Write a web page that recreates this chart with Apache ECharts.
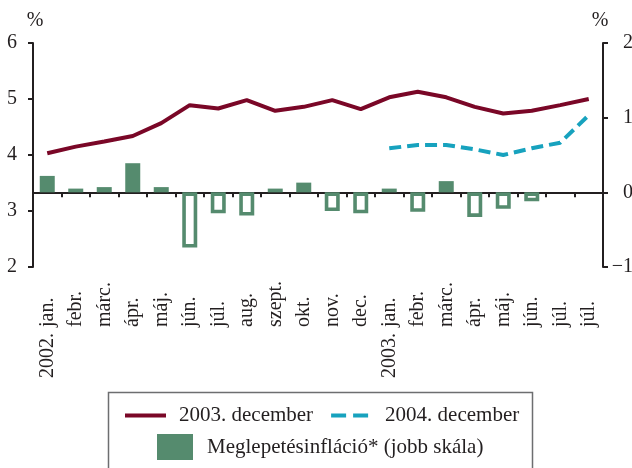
<!DOCTYPE html>
<html>
<head>
<meta charset="utf-8">
<script src="https://cdn.jsdelivr.net/npm/echarts@6/dist/echarts.min.js"></script>
<style>
  html, body { margin: 0; padding: 0; background: #fff; }
  #chart { width: 632px; height: 468px; }
</style>
</head>
<body>
<div id="chart"></div>
<script>
// Month labels along the bottom axis; years sit on a separate label row
const months = ['jan.', 'febr.', 'márc.', 'ápr.', 'máj.', 'jún.', 'júl.', 'aug.', 'szept.', 'okt.', 'nov.', 'dec.',
                'jan.', 'febr.', 'márc.', 'ápr.', 'máj.', 'jún.', 'júl.', 'júl.'];
const years = ['2002.', '', '', '', '', '', '', '', '', '', '', '',
               '2003.', '', '', '', '', '', '', ''];

// Inflation expectations, % (left scale)
const dec2003 = [4.03, 4.15, 4.24, 4.34, 4.57, 4.89, 4.83, 4.98, 4.79, 4.86, 4.98, 4.82,
                 5.03, 5.13, 5.03, 4.86, 4.74, 4.79, 4.89, 5.00];
const dec2004 = [null, null, null, null, null, null, null, null, null, null, null, null,
                 4.12, 4.18, 4.18, 4.10, 4.00, 4.12, 4.22, 4.71];
// Surprise inflation, percentage points (right scale)
const surprise = [0.22, 0.05, 0.07, 0.39, 0.07, -0.74, -0.28, -0.31, 0.05, 0.13, -0.25, -0.28,
                  0.05, -0.26, 0.15, -0.33, -0.22, -0.12, null, null];

const leftTicks = { min: 2, max: 6, interval: 1 };
const rightTicks = { min: -1, max: 2, interval: 1 };

const FONT = "'Liberation Serif', 'Times New Roman', serif";
const INK = '#231f20';
const RED = '#7a0727';
const CYAN = '#17a2be';
const GREEN = '#558b6e';

// Positive surprises are filled, negative ones are drawn as outlines
const barData = surprise.map(v => {
  if (v === null) return null;
  return v >= 0
    ? { value: v, itemStyle: { color: GREEN, borderWidth: 0 } }
    : { value: v, itemStyle: { color: '#ffffff', borderColor: GREEN, borderWidth: 3.6 } };
});

const axisLineStyle = { lineStyle: { color: INK, width: 2 } };
const tickStyle = { show: true, length: 5, lineStyle: { color: INK, width: 2 } };

const chart = echarts.init(document.getElementById('chart'), null, { renderer: 'canvas' });
chart.setOption({
  animation: false,
  backgroundColor: '#ffffff',
  textStyle: { fontFamily: FONT, color: INK },
  grid: { left: 33, right: 29, top: 43, bottom: 201, containLabel: false, outerBoundsMode: 'none' },
  xAxis: [
    {
      type: 'category',
      data: months,
      boundaryGap: true,
      position: 'bottom',
      axisLine: axisLineStyle,
      axisTick: Object.assign({ alignWithLabel: false, inside: false }, tickStyle),
      axisLabel: {
        interval: 0, rotate: 90, align: 'left', margin: 60,
        fontFamily: FONT, fontSize: 20, color: INK
      },
      splitLine: { show: false }
    },
    {
      type: 'category',
      data: years,
      boundaryGap: true,
      position: 'bottom',
      axisLine: { show: false },
      axisTick: { show: false },
      axisLabel: {
        interval: 0, rotate: 90, align: 'left', margin: 111,
        fontFamily: FONT, fontSize: 20, color: INK
      },
      splitLine: { show: false }
    }
  ],
  yAxis: [
    {
      type: 'value',
      position: 'left',
      min: leftTicks.min, max: leftTicks.max, interval: leftTicks.interval,
      name: '%',
      nameLocation: 'end',
      nameGap: 12,
      nameTextStyle: { fontFamily: FONT, fontSize: 20, color: INK, align: 'center', padding: [0, 0, 0, 4] },
      axisLine: Object.assign({ show: true }, axisLineStyle),
      axisTick: tickStyle,
      axisLabel: { margin: 16, fontFamily: FONT, fontSize: 20, color: INK },
      splitLine: { show: false }
    },
    {
      type: 'value',
      position: 'right',
      min: rightTicks.min, max: rightTicks.max, interval: rightTicks.interval,
      name: '%',
      nameLocation: 'end',
      nameGap: 12,
      nameTextStyle: { fontFamily: FONT, fontSize: 20, color: INK, align: 'center', padding: [0, 6, 0, 0] },
      axisLine: Object.assign({ show: true }, axisLineStyle),
      axisTick: tickStyle,
      axisLabel: {
        margin: 30, align: 'right',
        fontFamily: FONT, fontSize: 20, color: INK,
        formatter: v => String(v).replace('-', '\u2212')
      },
      splitLine: { show: false }
    }
  ],
  legend: [
    {
      data: [
        { name: '2003. december' },
        { name: '2004. december', lineStyle: { type: [15, 7] } }
      ],
      left: 123, top: 405, padding: 0,
      itemWidth: 41, itemHeight: 14, itemGap: 16,
      itemStyle: { opacity: 0 },
      lineStyle: { width: 4 },
      textStyle: { fontFamily: FONT, fontSize: 21, color: INK, padding: [0, 0, 0, 8] }
    },
    {
      data: ['Meglepetésinfláció* (jobb skála)'],
      left: 157, top: 434, padding: 0,
      icon: 'rect',
      itemWidth: 36, itemHeight: 26,
      itemStyle: { borderWidth: 0, color: GREEN },
      textStyle: { fontFamily: FONT, fontSize: 21, color: INK, padding: [0, 0, 0, 9] }
    }
  ],
  graphic: [
    {
      type: 'rect',
      left: 106, top: 390,
      shape: { width: 424, height: 90 },
      style: { fill: 'none', stroke: '#6d6e70', lineWidth: 1.5 },
      silent: true, z: -1
    }
  ],
  series: [
    {
      name: 'Meglepetésinfláció* (jobb skála)',
      type: 'bar',
      yAxisIndex: 1,
      barWidth: 15,
      itemStyle: { color: GREEN },
      data: barData
    },
    {
      name: '2003. december',
      type: 'line',
      yAxisIndex: 0,
      symbol: 'none',
      lineStyle: { color: RED, width: 4 },
      itemStyle: { color: RED },
      data: dec2003
    },
    {
      name: '2004. december',
      type: 'line',
      yAxisIndex: 0,
      symbol: 'none',
      connectNulls: false,
      lineStyle: { color: CYAN, width: 4, type: [12, 6] },
      itemStyle: { color: CYAN },
      data: dec2004
    }
  ]
});
</script>
</body>
</html>
